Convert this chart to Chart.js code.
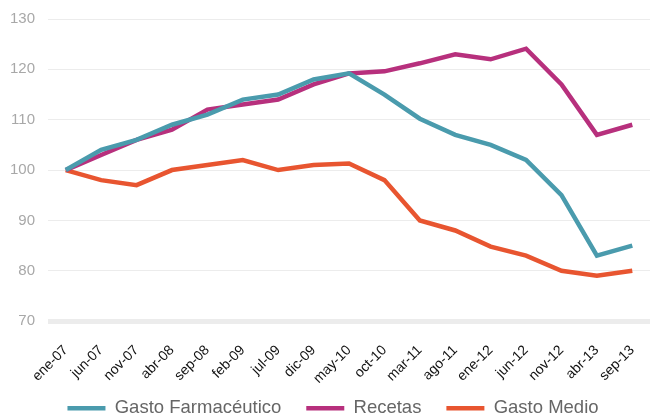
<!DOCTYPE html>
<html>
<head>
<meta charset="utf-8">
<script src="https://cdn.jsdelivr.net/npm/chart.js@4/dist/chart.umd.min.js"></script>
<style>
  html, body { margin: 0; padding: 0; background: #fff; }
  #wrap { width: 650px; height: 416px; }
</style>
</head>
<body>
<div id="wrap"><canvas id="chart" width="650" height="416"></canvas></div>
<script>
/* ------------------------------------------------------------------ */
/*  Data                                                               */
/* ------------------------------------------------------------------ */

var months = [
  "ene-07", "jun-07", "nov-07", "abr-08", "sep-08", "feb-09", "jul-09", "dic-09",
  "may-10", "oct-10", "mar-11", "ago-11", "ene-12", "jun-12", "nov-12", "abr-13", "sep-13"
];

var gastoFarma = [100, 104, 106, 109, 111, 114, 115, 118, 119.2, 115, 110.2, 107, 105, 102, 95, 83, 85];
var recetas    = [100, 103, 106, 108, 112, 113, 114, 117, 119.2, 119.6, 121.2, 123, 122, 124.1, 117, 107, 109];
var gastoMedio = [100, 98, 97, 100, 101, 102, 100, 101, 101.3, 98, 90, 88, 84.8, 83, 80, 79, 80];

var yTicks = [70, 80, 90, 100, 110, 120, 130];

/* ------------------------------------------------------------------ */
/*  Palette                                                            */
/* ------------------------------------------------------------------ */

var colors = {
  farma:  "#4A9BAD",
  recetas:"#B7307D",
  medio:  "#E85530",
  grid:   "#ececec",
  tick:   "#a8a8a8",
  legend: "#666666",
};

var FONT = "'Liberation Sans', Arial, Helvetica, sans-serif";

function lineSet(label, data, color) {
  return {
    label: label,
    data: data,
    borderColor: color,
    backgroundColor: color,
    borderWidth: 4.5,
    pointRadius: 0,
    pointHoverRadius: 0,
    tension: 0,
    fill: false,
  };
}

// the original legend hugs the bottom edge and sits right of centre
var legendNudge = {
  id: "legendNudge",
  afterLayout: function (chart) {
    var dx = 8, dy = -26;
    var lg = chart.legend;
    lg.left += dx; lg.right += dx;
    lg.top += dy; lg.bottom += dy;
  },
};

new Chart(document.getElementById("chart"), {
  type: "line",
  data: {
    labels: months,
    datasets: [
      lineSet("Gasto Farmacéutico", gastoFarma, colors.farma),
      lineSet("Recetas", recetas, colors.recetas),
      lineSet("Gasto Medio", gastoMedio, colors.medio),
    ],
  },
  options: {
    responsive: false,
    animation: false,
    layout: { padding: { top: 19, right: -3, bottom: -37.5, left: -3 } },
    plugins: {
      tooltip: { enabled: false },
      legend: {
        position: "bottom",
        labels: {
          usePointStyle: true,
          pointStyle: "line",
          pointStyleWidth: 38,
          boxHeight: 6,
          color: colors.legend,
          padding: 25,
          font: { family: FONT, size: 18.5 },
        },
      },
    },
    scales: {
      x: {
        offset: true,
        grid: { display: false },
        border: { display: false },
        // plot runs right to the canvas edge
        afterFit: function (scale) { scale.paddingLeft = 0; scale.paddingRight = 0; },
        ticks: {
          color: "#111",
          font: { family: FONT, size: 14 },
          minRotation: 45,
          maxRotation: 45,
          autoSkip: false,
          padding: 13,
        },
      },
      y: {
        min: 70,
        max: 130,
        afterBuildTicks: function (axis) {
          axis.ticks = yTicks.map(function (v) { return { value: v }; });
        },
        afterFit: function (scale) { scale.paddingTop = 0; },
        border: { display: false },
        grid: {
          color: colors.grid,
          lineWidth: function (ctx) { return ctx.tick && ctx.tick.value === 70 ? 5 : 1; },
          drawTicks: false,
        },
        ticks: {
          color: colors.tick,
          font: { family: FONT, size: 15 },
          padding: 13,
        },
      },
    },
  },
  plugins: [legendNudge],
});
</script>
</body>
</html>
